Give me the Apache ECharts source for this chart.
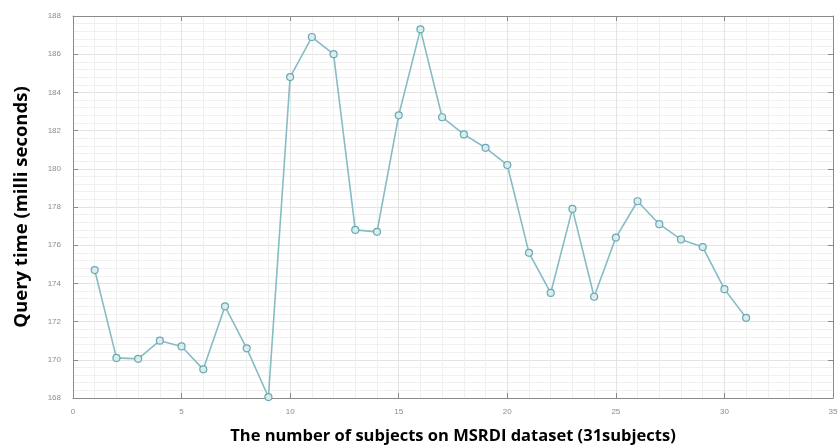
<!DOCTYPE html>
<html>
<head>
<meta charset="utf-8">
<script src="https://cdn.jsdelivr.net/npm/echarts@6/dist/echarts.min.js"></script>
<style>
  html, body { margin: 0; padding: 0; background: #ffffff; }
  #chart { width: 838px; height: 448px; }
</style>
</head>
<body>
<div id="chart"></div>
<script>
// Subject index (1..31) and the measured query time in milliseconds
const subjects = [1,2,3,4,5,6,7,8,9,10,11,12,13,14,15,16,17,18,19,20,21,22,23,24,25,26,27,28,29,30,31];
const queryTime = [174.7,170.1,170.05,171.0,170.7,169.5,172.8,170.6,168.05,184.8,186.9,186.0,176.8,176.7,182.8,187.3,182.7,181.8,181.1,180.2,175.6,173.5,177.9,173.3,176.4,178.3,177.1,176.3,175.9,173.7,172.2];
const xRange = { min: 0, max: 35, step: 5 };
const yRange = { min: 168, max: 188, step: 2 };

const xTitle = 'The number of subjects on MSRDI dataset (31subjects)';
const yTitle = 'Query time (milli seconds)';

const frameColor = '#8a8a8a';
const majorGrid = '#e3e3e3';
const minorGrid = '#f0f0f0';
const tickLabel = { color: '#8c8c8c', fontSize: 8, fontFamily: 'Liberation Sans' };
const xTitleFont = { color: '#000', fontSize: 16.5, fontWeight: 'bold', fontFamily: 'Open Sans' };
const yTitleFont = { color: '#000', fontSize: 18.5, fontWeight: 'bold', fontFamily: 'Open Sans' };

const chart = echarts.init(document.getElementById('chart'), null, { renderer: 'canvas' });

function boxAxis(range, position, showLabels, extra) {
  return Object.assign({
    type: 'value',
    position: position,
    min: range.min,
    max: range.max,
    interval: range.step,
    axisLine: { show: true, onZero: false, lineStyle: { color: frameColor, width: 1 } },
    axisTick: { show: true, inside: true, length: 5, lineStyle: { color: frameColor } },
    axisLabel: Object.assign({ show: showLabels }, tickLabel),
    splitLine: { show: false },
    minorTick: { show: false },
    minorSplitLine: { show: false }
  }, extra || {});
}

chart.setOption({
  animation: false,
  backgroundColor: '#ffffff',
  grid: { left: 73, right: 5, top: 16, bottom: 50, containLabel: false, outerBoundsMode: 'none' },
  xAxis: [
    boxAxis(xRange, 'bottom', true, {
      name: xTitle,
      nameLocation: 'middle',
      nameGap: 30,
      nameTextStyle: xTitleFont,
      axisLabel: Object.assign({ show: true, margin: 10 }, tickLabel),
      splitLine: { show: true, lineStyle: { color: majorGrid, width: 1 } },
      minorTick: { show: true, splitNumber: 5, length: 0 },
      minorSplitLine: { show: true, lineStyle: { color: minorGrid, width: 1 } }
    }),
    boxAxis(xRange, 'top', false)
  ],
  yAxis: [
    boxAxis(yRange, 'left', true, {
      name: yTitle,
      nameLocation: 'middle',
      nameGap: 42,
      nameTextStyle: yTitleFont,
      axisLabel: Object.assign({ show: true, margin: 12 }, tickLabel),
      splitLine: { show: true, lineStyle: { color: majorGrid, width: 1 } },
      minorTick: { show: true, splitNumber: 5, length: 0 },
      minorSplitLine: { show: true, lineStyle: { color: minorGrid, width: 1 } }
    }),
    boxAxis(yRange, 'right', false)
  ],
  series: [{
    type: 'line',
    xAxisIndex: 0,
    yAxisIndex: 0,
    data: subjects.map((s, i) => [s, queryTime[i]]),
    symbol: 'circle',
    symbolSize: 7,
    lineStyle: { color: '#86bcc4', width: 1.6 },
    itemStyle: { color: '#d9ecee', borderColor: '#6aa9b3', borderWidth: 1.2 }
  }]
});
</script>
</body>
</html>
